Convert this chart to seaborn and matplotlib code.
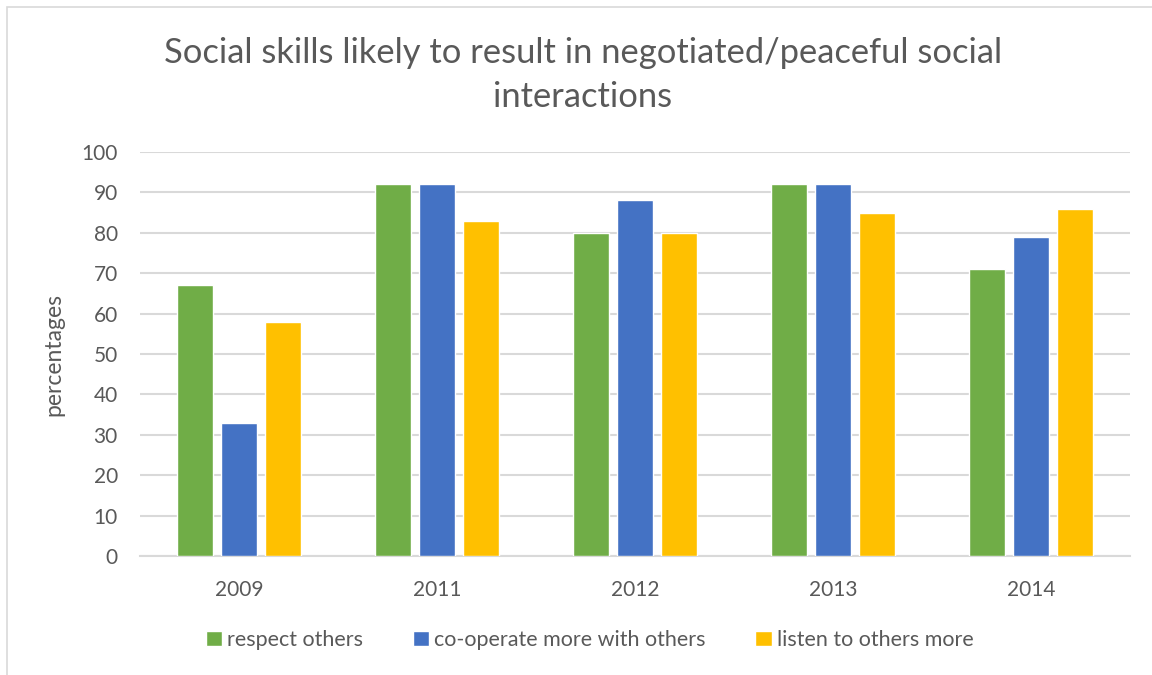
import matplotlib
matplotlib.use("Agg")
import matplotlib.pyplot as plt
from matplotlib.patches import Rectangle
import seaborn as sns
import pandas as pd

# Données
years = ["2009", "2011", "2012", "2013", "2014"]
respect_others = [67, 92, 80, 92, 71]
cooperate_more = [33, 92, 88, 92, 79]
listen_more = [58, 83, 80, 85, 86]
series_names = ["respect others", "co-operate more with others", "listen to others more"]
colors = ["#70AD47", "#4472C4", "#FFC000"]
y_ticks = [0, 10, 20, 30, 40, 50, 60, 70, 80, 90, 100]

text_color = "#595959"
grid_color = "#D9D9D9"

df = pd.DataFrame({
    "year": years * 3,
    "value": respect_others + cooperate_more + listen_more,
    "series": [s for s in series_names for _ in years],
})

sns.set_style("white")
plt.rcParams["font.family"] = ["Lato", "DejaVu Sans"]

fig = plt.figure(figsize=(11.52, 6.75), dpi=100)
ax = fig.add_axes([140 / 1152, 1 - 556 / 675, 990 / 1152, 404 / 675])

sns.barplot(data=df, x="year", y="value", hue="series", order=years,
            hue_order=series_names, palette=colors, width=0.667, gap=0.2,
            saturation=1, ax=ax, legend=True, zorder=3)

ax.set_ylim(0, 100)
ax.set_xlim(-0.5, 4.5)
ax.set_yticks(y_ticks)
ax.yaxis.grid(True, color=grid_color, linewidth=1.5, zorder=0)
ax.set_axisbelow(True)
for side in ["top", "right", "left"]:
    ax.spines[side].set_visible(False)
ax.spines["bottom"].set_color(grid_color)
ax.spines["bottom"].set_linewidth(1.5)
ax.tick_params(axis="both", length=0, labelsize=15, colors=text_color)
ax.tick_params(axis="x", pad=17)
ax.tick_params(axis="y", pad=16)
ax.set_xlabel("")
ax.set_ylabel("percentages", fontsize=16.5, color=text_color, labelpad=12)

# Légende en bas
handles, labels = ax.get_legend_handles_labels()
ax.get_legend().remove()
fig.legend(handles, labels, loc="center", bbox_to_anchor=(0.512, 1 - 640 / 675),
           ncol=3, frameon=False, fontsize=15.5, labelcolor=text_color,
           handlelength=0.75, handleheight=0.75, handletextpad=0.25, columnspacing=2.3)

fig.text(583 / 1152, 1 - 75 / 675,
         "Social skills likely to result in negotiated/peaceful social\ninteractions",
         ha="center", va="center", fontsize=24.8, color=text_color, linespacing=1.45)

# Cadre du graphique (coupé à droite et en bas)
fig.patches.append(Rectangle((7 / 1152, -0.1), 1.2, 1.1 - 7 / 675,
                             transform=fig.transFigure, fill=False,
                             edgecolor=grid_color, linewidth=1.2))

fig.savefig("out.png", dpi=100)
